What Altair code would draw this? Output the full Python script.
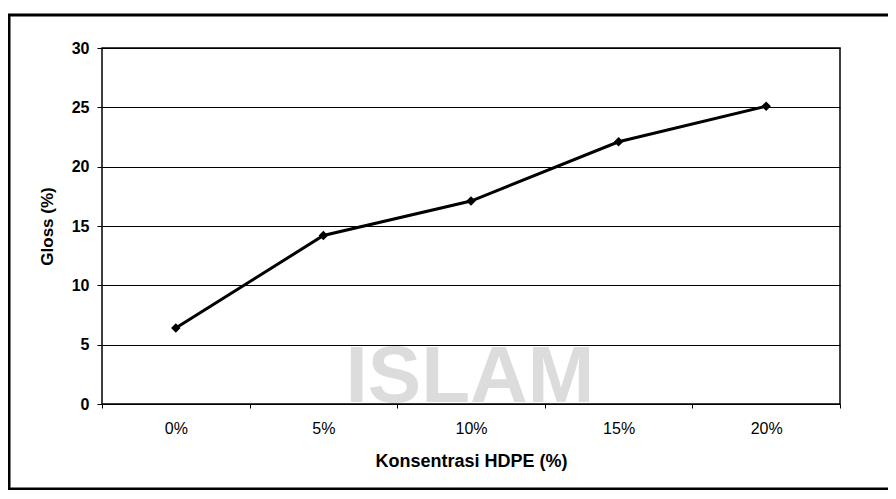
import altair as alt
import pandas as pd

categories = ["0%", "5%", "10%", "15%", "20%"]
gloss = [6.4, 14.2, 17.1, 22.1, 25.1]

df = pd.DataFrame({"Konsentrasi": categories, "Gloss": gloss})

W, H = 738, 356

x_enc = alt.X("Konsentrasi:N", sort=categories,
              scale=alt.Scale(paddingInner=0, paddingOuter=0),
              axis=alt.Axis(title="Konsentrasi HDPE (%)", labelAngle=0, labelPadding=12,
                            tickBand="extent", tickSize=4, domain=False, grid=False,
                            titlePadding=16, labelFontSize=16, titleFontSize=18,
                            titleFontWeight="bold",
                            labelFont="Liberation Sans", titleFont="Liberation Sans",
                            labelColor="black", titleColor="black", tickColor="black"))
y_enc = alt.Y("Gloss:Q", scale=alt.Scale(domain=[0, 30]),
              axis=alt.Axis(title="Gloss (%)", values=[0, 5, 10, 15, 20, 25, 30],
                            tickSize=5, labelPadding=8, domain=False,
                            grid=True, gridColor="black", gridWidth=1.2, gridOpacity=1,
                            titlePadding=15, labelFontSize=16, titleFontSize=17,
                            labelFontWeight="bold", titleFontWeight="bold",
                            labelFont="Liberation Sans", titleFont="Liberation Sans",
                            labelColor="black", titleColor="black", tickColor="black"))

watermark = alt.Chart(pd.DataFrame({"t": ["ISLAM"]})).mark_text(
    font="Liberation Sans", fontSize=80, fontWeight="bold", color="#dcdcdc",
    align="center", baseline="middle", clip=False
).encode(text="t:N", x=alt.value(368), y=alt.value(330))

frame = alt.Chart(pd.DataFrame({"a": [0]})).mark_rect(
    fill=None, stroke="black", strokeWidth=3, clip=False
).encode(x=alt.value(-93), x2=alt.value(840), y=alt.value(-33), y2=alt.value(441))

line = alt.Chart(df).mark_line(color="black", strokeWidth=3).encode(x=x_enc, y=y_enc)
points = alt.Chart(df).mark_point(shape="diamond", filled=True, color="black",
                                  size=90, opacity=1).encode(x=x_enc, y=y_enc)

chart = alt.layer(watermark, frame, line, points).properties(
    width=W, height=H,
    autosize=alt.AutoSizeParams(type="none"),
    padding={"left": 94, "top": 40, "right": 48, "bottom": 86},
    background="white",
).configure_view(stroke="black", strokeWidth=1.5)

chart.save("out.html", embed_options={"renderer": "svg", "actions": False})
